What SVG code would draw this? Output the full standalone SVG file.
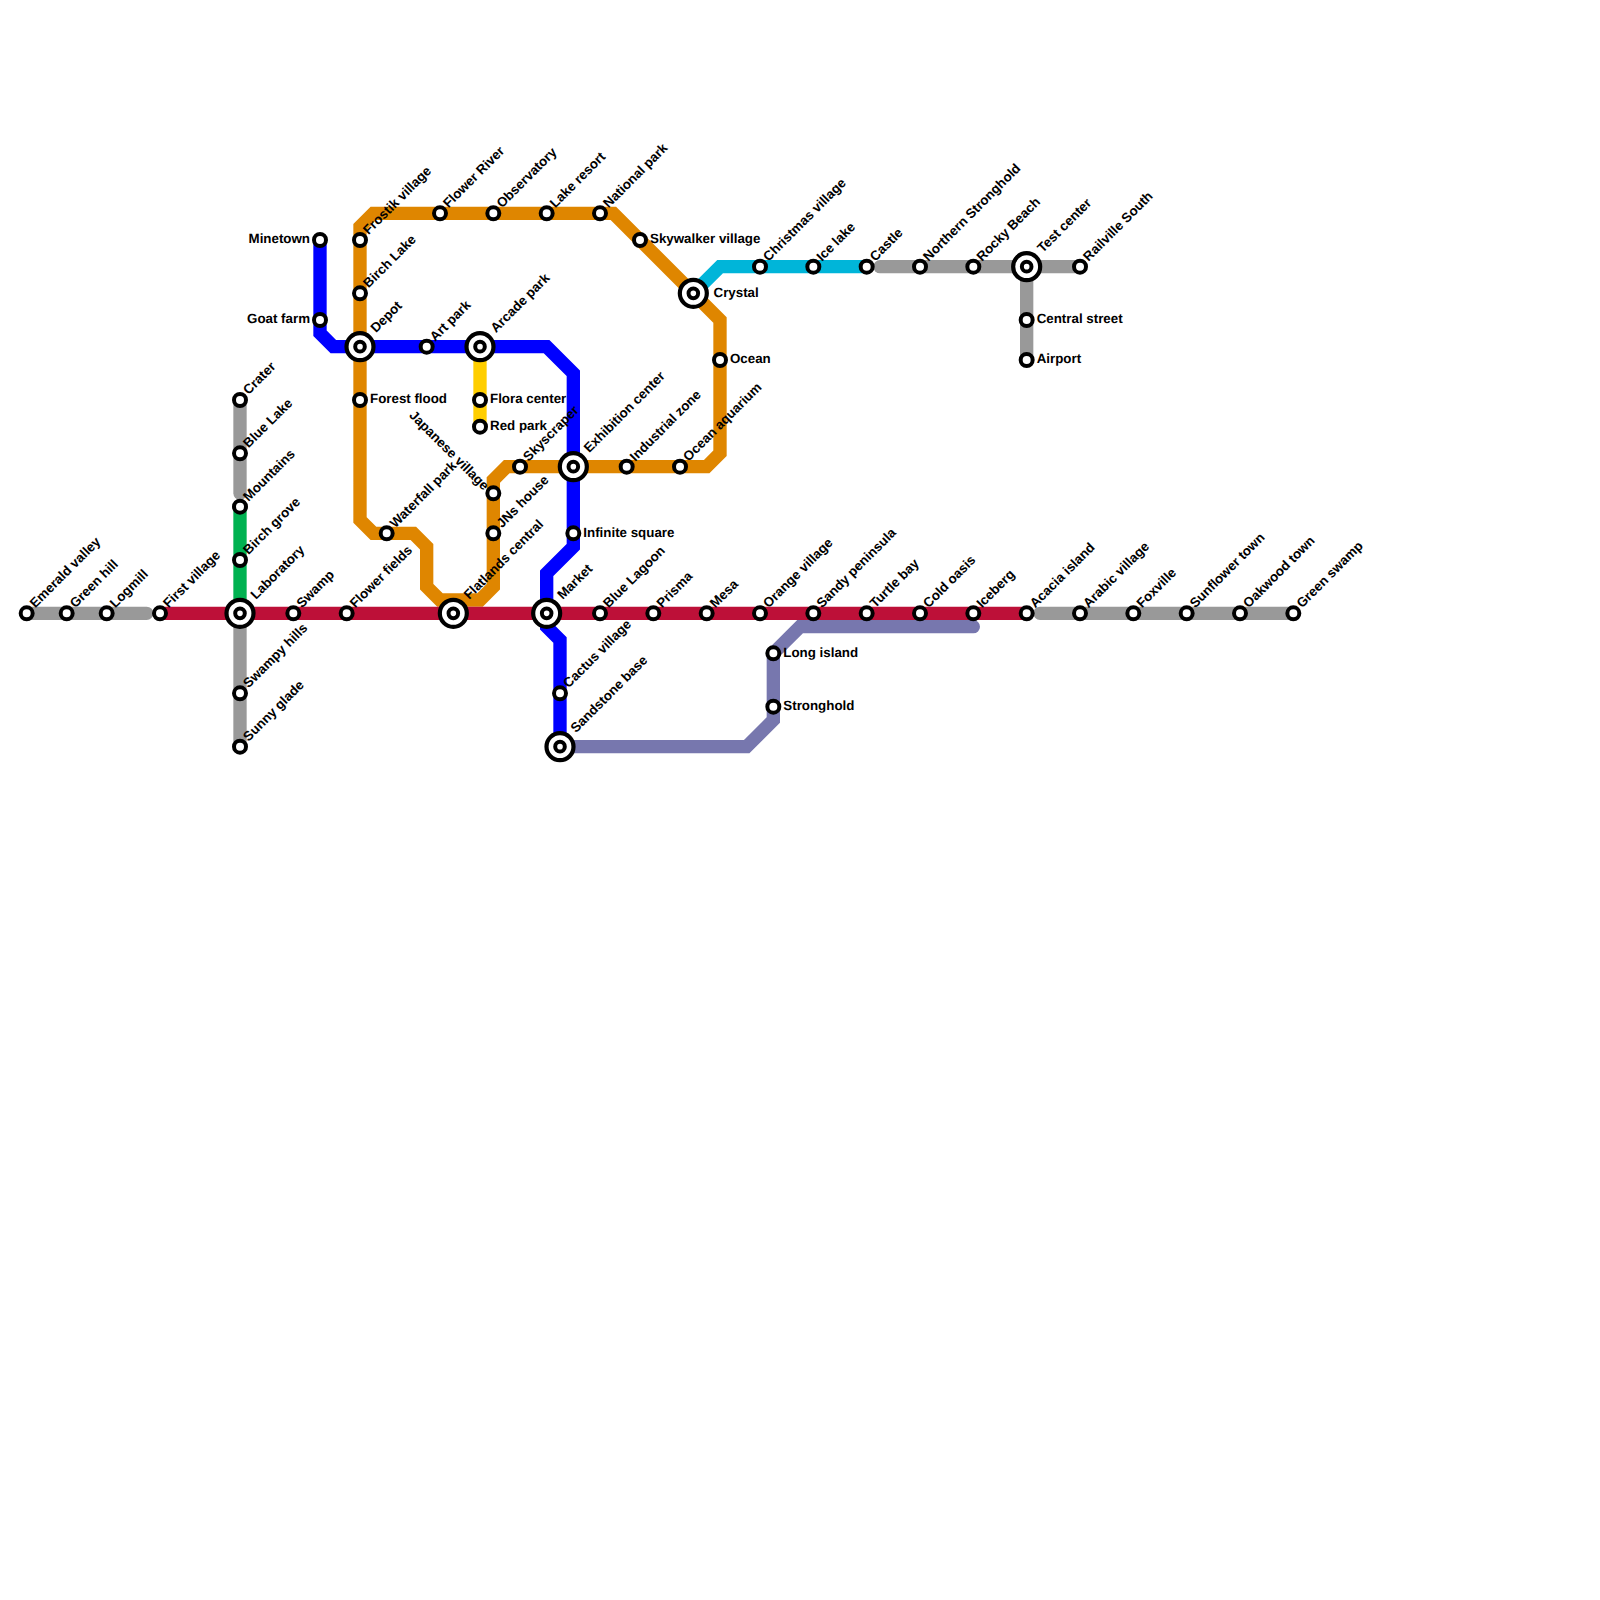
<svg xmlns="http://www.w3.org/2000/svg" width="1600" height="1600" viewBox="0 0 1600 1600">
<defs>
<style>
.ln{fill:none;stroke-width:13.33;stroke-linejoin:miter;stroke-linecap:butt}
.rc{stroke-linecap:round}
.o{fill:#fff;stroke:#000;stroke-width:4}
.r{fill:#fff;stroke:#000;stroke-width:4.2}
text{font-family:"Liberation Sans",Arial,sans-serif;font-weight:700;font-size:13.33px;fill:#000;text-rendering:geometricPrecision}
</style>
<circle id="s" class="o" r="6"/>
<g id="x"><circle class="r" r="13.5"/><circle class="o" r="4.8"/></g>
</defs>
<rect width="1600" height="1600" fill="#fff"/>
<g id="connectors">
<path class="ln rc" stroke="#999" d="M26.67 613.33H146.67"/>
<path class="ln rc" stroke="#999" d="M240 400V493.33"/>
<path class="ln" stroke="#00b251" d="M240 506.67V613.33"/>
<path class="ln" stroke="#999" d="M240 613.33V746.67"/>
<path class="ln" stroke="#df8600" d="M360 226.67L373.33 213.33H613.33L720 320V453.33L706.67 466.67H506.67L493.33 480V586.67L480 600H440L426.67 586.67V546.67L413.33 533.33H373.33L360 520Z"/>
<path class="ln" stroke="#ffce00" d="M480 346.67V426.67"/>
<path class="ln" stroke="#0000ff" d="M320 240V333.33L333.33 346.67H546.67L573.33 373.33V546.67L546.67 573.33V626.67L560 640V746.67"/>
<path class="ln" stroke="#00b5d9" d="M693.33 293.33L720 266.67H866.67"/>
<path class="ln rc" stroke="#999" d="M880 266.67H1080"/>
<path class="ln" stroke="#999" d="M1026.67 266.67V360"/>
<path class="ln rc" stroke="#7777ae" d="M560 746.67H746.67L773.33 720V653.33L800 626.67H973.33"/>
<path class="ln" stroke="#bd1038" d="M160 613.33H1026.67"/>
<path class="ln rc" stroke="#999" d="M1040 613.33H1293.33"/>
</g>
<g id="stations">
<g id="n1"><use href="#s" x="26.67" y="613.33"/><text transform="translate(35.3 608.5) rotate(-45)">Emerald valley</text></g>
<g id="n2"><use href="#s" x="66.67" y="613.33"/><text transform="translate(75.3 608.5) rotate(-45)">Green hill</text></g>
<g id="n3"><use href="#s" x="106.67" y="613.33"/><text transform="translate(115.3 608.5) rotate(-45)">Logmill</text></g>
<g id="n4"><use href="#s" x="160" y="613.33"/><text transform="translate(168.6 608.5) rotate(-45)">First village</text></g>
<g id="n5"><use href="#x" x="240" y="613.33"/><text transform="translate(256 600) rotate(-45)">Laboratory</text></g>
<g id="n6"><use href="#s" x="293.33" y="613.33"/><text transform="translate(301.9 608.5) rotate(-45)">Swamp</text></g>
<g id="n7"><use href="#s" x="346.67" y="613.33"/><text transform="translate(355.3 608.5) rotate(-45)">Flower fields</text></g>
<g id="n8"><use href="#x" x="453.33" y="613.33"/><text transform="translate(469.3 600) rotate(-45)">Flatlands central</text></g>
<g id="n9"><use href="#x" x="546.67" y="613.33"/><text transform="translate(562.7 600) rotate(-45)">Market</text></g>
<g id="n10"><use href="#s" x="600" y="613.33"/><text transform="translate(608.6 608.5) rotate(-45)">Blue Lagoon</text></g>
<g id="n11"><use href="#s" x="653.33" y="613.33"/><text transform="translate(661.9 608.5) rotate(-45)">Prisma</text></g>
<g id="n12"><use href="#s" x="706.67" y="613.33"/><text transform="translate(715.3 608.5) rotate(-45)">Mesa</text></g>
<g id="n13"><use href="#s" x="760" y="613.33"/><text transform="translate(768.6 608.5) rotate(-45)">Orange village</text></g>
<g id="n14"><use href="#s" x="813.33" y="613.33"/><text transform="translate(821.9 608.5) rotate(-45)">Sandy peninsula</text></g>
<g id="n15"><use href="#s" x="866.67" y="613.33"/><text transform="translate(875.3 608.5) rotate(-45)">Turtle bay</text></g>
<g id="n16"><use href="#s" x="920" y="613.33"/><text transform="translate(928.6 608.5) rotate(-45)">Cold oasis</text></g>
<g id="n17"><use href="#s" x="973.33" y="613.33"/><text transform="translate(981.9 608.5) rotate(-45)">Iceberg</text></g>
<g id="n18"><use href="#s" x="1026.67" y="613.33"/><text transform="translate(1035.3 608.5) rotate(-45)">Acacia island</text></g>
<g id="n19"><use href="#s" x="1080" y="613.33"/><text transform="translate(1088.6 608.5) rotate(-45)">Arabic village</text></g>
<g id="n20"><use href="#s" x="1133.33" y="613.33"/><text transform="translate(1141.9 608.5) rotate(-45)">Foxville</text></g>
<g id="n21"><use href="#s" x="1186.67" y="613.33"/><text transform="translate(1195.3 608.5) rotate(-45)">Sunflower town</text></g>
<g id="n22"><use href="#s" x="1240" y="613.33"/><text transform="translate(1248.6 608.5) rotate(-45)">Oakwood town</text></g>
<g id="n23"><use href="#s" x="1293.33" y="613.33"/><text transform="translate(1301.9 608.5) rotate(-45)">Green swamp</text></g>
<g id="n24"><use href="#s" x="240" y="400"/><text transform="translate(248.6 395.2) rotate(-45)">Crater</text></g>
<g id="n25"><use href="#s" x="240" y="453.33"/><text transform="translate(248.6 448.5) rotate(-45)">Blue Lake</text></g>
<g id="n26"><use href="#s" x="240" y="506.67"/><text transform="translate(248.6 501.9) rotate(-45)">Mountains</text></g>
<g id="n27"><use href="#s" x="240" y="560"/><text transform="translate(248.6 555.2) rotate(-45)">Birch grove</text></g>
<g id="n28"><use href="#s" x="240" y="693.33"/><text transform="translate(248.6 688.5) rotate(-45)">Swampy hills</text></g>
<g id="n29"><use href="#s" x="240" y="746.67"/><text transform="translate(248.6 741.9) rotate(-45)">Sunny glade</text></g>
<g id="n30"><use href="#s" x="320" y="240"/><text x="310" y="243.3" text-anchor="end">Minetown</text></g>
<g id="n31"><use href="#s" x="320" y="320"/><text x="310" y="323.3" text-anchor="end">Goat farm</text></g>
<g id="n32"><use href="#s" x="360" y="240"/><text transform="translate(368.6 235.2) rotate(-45)">Frostik village</text></g>
<g id="n33"><use href="#s" x="360" y="293.33"/><text transform="translate(368.6 288.5) rotate(-45)">Birch Lake</text></g>
<g id="n34"><use href="#x" x="360" y="346.67"/><text transform="translate(376 333.3) rotate(-45)">Depot</text></g>
<g id="n35"><use href="#s" x="360" y="400"/><text x="370" y="403.3">Forest flood</text></g>
<g id="n36"><use href="#s" x="386.67" y="533.33"/><text transform="translate(395.3 528.5) rotate(-45)">Waterfall park</text></g>
<g id="n37"><use href="#s" x="426.67" y="346.67"/><text transform="translate(435.3 341.9) rotate(-45)">Art park</text></g>
<g id="n38"><use href="#s" x="440" y="213.33"/><text transform="translate(448.6 208.5) rotate(-45)">Flower River</text></g>
<g id="n39"><use href="#s" x="493.33" y="213.33"/><text transform="translate(501.9 208.5) rotate(-45)">Observatory</text></g>
<g id="n40"><use href="#s" x="546.67" y="213.33"/><text transform="translate(555.3 208.5) rotate(-45)">Lake resort</text></g>
<g id="n41"><use href="#s" x="600" y="213.33"/><text transform="translate(608.6 208.5) rotate(-45)">National park</text></g>
<g id="n42"><use href="#s" x="640" y="240"/><text x="650" y="243.3">Skywalker village</text></g>
<g id="n43"><use href="#x" x="693.33" y="293.33"/><text x="713.5" y="296.6">Crystal</text></g>
<g id="n44"><use href="#s" x="720" y="360"/><text x="730" y="363.3">Ocean</text></g>
<g id="n45"><use href="#x" x="480" y="346.67"/><text transform="translate(496 333.3) rotate(-45)">Arcade park</text></g>
<g id="n46"><use href="#s" x="480" y="400"/><text x="490" y="403.3">Flora center</text></g>
<g id="n47"><use href="#s" x="480" y="426.67"/><text x="490" y="430">Red park</text></g>
<g id="n48"><use href="#s" x="520" y="466.67"/><text transform="translate(528.6 461.9) rotate(-45)">Skyscraper</text></g>
<g id="n49"><use href="#x" x="573.33" y="466.67"/><text transform="translate(589.3 453.3) rotate(-45)">Exhibition center</text></g>
<g id="n50"><use href="#s" x="626.67" y="466.67"/><text transform="translate(635.3 461.9) rotate(-45)">Industrial zone</text></g>
<g id="n51"><use href="#s" x="680" y="466.67"/><text transform="translate(688.6 461.9) rotate(-45)">Ocean aquarium</text></g>
<g id="n52"><use href="#s" x="493.33" y="493.33"/><text transform="translate(483.5 491) rotate(45)" text-anchor="end">Japanese village</text></g>
<g id="n53"><use href="#s" x="493.33" y="533.33"/><text transform="translate(501.9 528.5) rotate(-45)">JNs house</text></g>
<g id="n54"><use href="#s" x="573.33" y="533.33"/><text x="583.3" y="536.6">Infinite square</text></g>
<g id="n55"><use href="#s" x="560" y="693.33"/><text transform="translate(568.6 688.5) rotate(-45)">Cactus village</text></g>
<g id="n56"><use href="#x" x="560" y="746.67"/><text transform="translate(576 733.3) rotate(-45)">Sandstone base</text></g>
<g id="n57"><use href="#s" x="773.33" y="653.33"/><text x="783.3" y="656.6">Long island</text></g>
<g id="n58"><use href="#s" x="773.33" y="706.67"/><text x="783.3" y="710">Stronghold</text></g>
<g id="n59"><use href="#s" x="760" y="266.67"/><text transform="translate(768.6 261.9) rotate(-45)">Christmas village</text></g>
<g id="n60"><use href="#s" x="813.33" y="266.67"/><text transform="translate(821.9 261.9) rotate(-45)">Ice lake</text></g>
<g id="n61"><use href="#s" x="866.67" y="266.67"/><text transform="translate(875.3 261.9) rotate(-45)">Castle</text></g>
<g id="n62"><use href="#s" x="920" y="266.67"/><text transform="translate(928.6 261.9) rotate(-45)">Northern Stronghold</text></g>
<g id="n63"><use href="#s" x="973.33" y="266.67"/><text transform="translate(981.9 261.9) rotate(-45)">Rocky Beach</text></g>
<g id="n64"><use href="#x" x="1026.67" y="266.67"/><text transform="translate(1042.7 253.3) rotate(-45)">Test center</text></g>
<g id="n65"><use href="#s" x="1080" y="266.67"/><text transform="translate(1088.6 261.9) rotate(-45)">Railville South</text></g>
<g id="n66"><use href="#s" x="1026.67" y="320"/><text x="1036.7" y="323.3">Central street</text></g>
<g id="n67"><use href="#s" x="1026.67" y="360"/><text x="1036.7" y="363.3">Airport</text></g>
</g>
</svg>
